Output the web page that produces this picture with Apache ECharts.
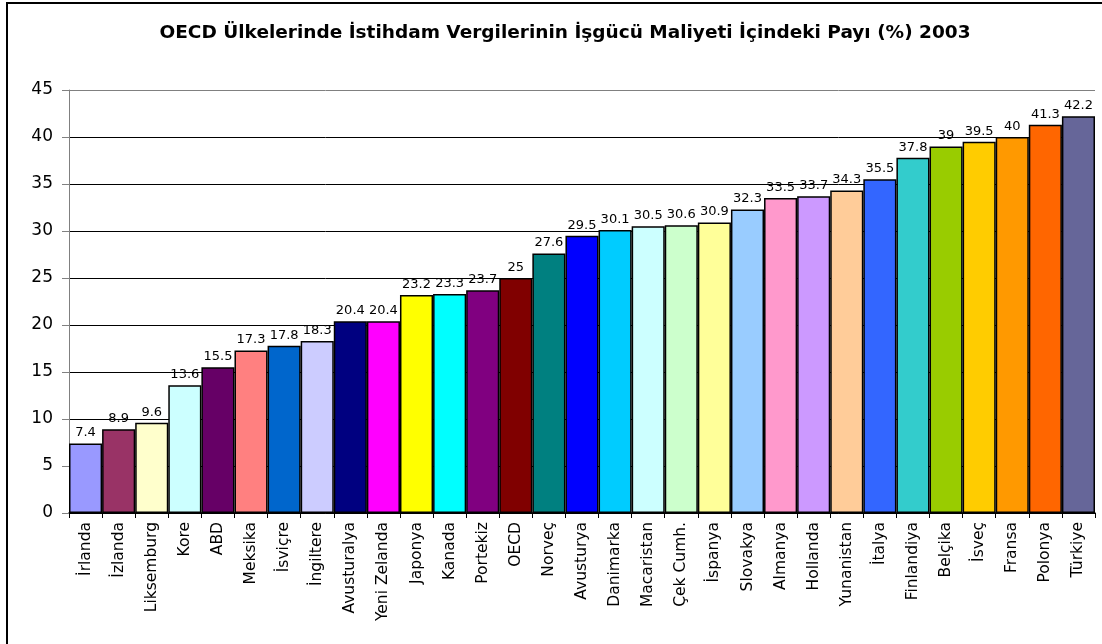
<!DOCTYPE html>
<html>
<head>
    <meta charset="utf-8">
    <script src="https://cdn.jsdelivr.net/npm/echarts@6/dist/echarts.min.js"></script>
    <style>
        html, body { margin: 0; padding: 0; background: #fff; }
    </style>
</head>
<body>
    <div id="main" style="width: 1102px;height:644px;"></div>
    <script type="text/javascript">
        // ülkeler ve değerler (%)
        var countries = ['İrlanda', 'İzlanda', 'Liksemburg', 'Kore', 'ABD', 'Meksika', 'İsviçre', 'İngiltere',
            'Avusturalya', 'Yeni Zelanda', 'Japonya', 'Kanada', 'Portekiz', 'OECD', 'Norveç', 'Avusturya',
            'Danimarka', 'Macaristan', 'Çek Cumh.', 'İspanya', 'Slovakya', 'Almanya', 'Hollanda', 'Yunanistan',
            'İtalya', 'Finlandiya', 'Belçika', 'İsveç', 'Fransa', 'Polonya', 'Türkiye'];
        var values = [7.4, 8.9, 9.6, 13.6, 15.5, 17.3, 17.8, 18.3, 20.4, 20.4, 23.2, 23.3, 23.7, 25, 27.6, 29.5,
            30.1, 30.5, 30.6, 30.9, 32.3, 33.5, 33.7, 34.3, 35.5, 37.8, 39, 39.5, 40, 41.3, 42.2];
        var barColors = ['#9999FF', '#993366', '#FFFFCC', '#CCFFFF', '#660066', '#FF8080', '#0066CC', '#CCCCFF',
            '#000080', '#FF00FF', '#FFFF00', '#00FFFF', '#800080', '#800000', '#008080', '#0000FF',
            '#00CCFF', '#CCFFFF', '#CCFFCC', '#FFFF99', '#99CCFF', '#FF99CC', '#CC99FF', '#FFCC99',
            '#3366FF', '#33CCCC', '#99CC00', '#FFCC00', '#FF9900', '#FF6600', '#666699'];

        var myChart = echarts.init(document.getElementById('main'));

        var barData = [];
        for (var i = 0; i < values.length; i++) {
            barData.push({ value: values[i], itemStyle: { color: barColors[i] } });
        }

        // üst çizgi gri, diğerleri siyah
        var gridColors = ['#000', '#000', '#000', '#000', '#000', '#000', '#000', '#000', '#000', '#808080'];

        var option = {
            backgroundColor: '#fff',
            animation: false,
            title: {
                text: 'OECD Ülkelerinde İstihdam Vergilerinin İşgücü Maliyeti İçindeki Payı (%) 2003',
                left: 560,
                textAlign: 'center',
                top: 19,
                textStyle: {
                    fontFamily: 'DejaVu Sans',
                    fontSize: 18.5,
                    fontWeight: 'bold',
                    color: '#000'
                }
            },
            graphic: [{
                type: 'rect',
                shape: { x: 7, y: 3, width: 1200, height: 700 },
                style: { fill: 'none', stroke: '#000', lineWidth: 2 },
                silent: true
            }],
            grid: {
                left: 69,
                right: 7,
                top: 90,
                bottom: 131
            },
            xAxis: {
                type: 'category',
                data: countries,
                axisLine: { lineStyle: { color: '#000', width: 1.5 } },
                axisTick: { show: true, length: 5, lineStyle: { color: '#000' } },
                axisLabel: {
                    rotate: 90,
                    interval: 0,
                    margin: 9,
                    fontFamily: 'DejaVu Sans',
                    fontSize: 15.5,
                    color: '#000'
                }
            },
            yAxis: {
                type: 'value',
                min: 0,
                max: 45,
                interval: 5,
                axisLine: { show: true, lineStyle: { color: '#808080' } },
                axisTick: { show: true, length: 7, lineStyle: { color: '#808080' } },
                axisLabel: {
                    margin: 16,
                    fontFamily: 'DejaVu Sans',
                    fontSize: 17,
                    color: '#000'
                },
                splitLine: { show: true, lineStyle: { color: gridColors, width: 1 } }
            },
            series: [{
                type: 'bar',
                data: barData,
                barCategoryGap: 0,
                itemStyle: { borderColor: '#000', borderWidth: 1.5 },
                label: {
                    show: true,
                    position: 'top',
                    distance: 4,
                    fontFamily: 'DejaVu Sans',
                    fontSize: 13,
                    color: '#000'
                }
            }]
        };

        myChart.setOption(option);
    </script>
</body>
</html>
